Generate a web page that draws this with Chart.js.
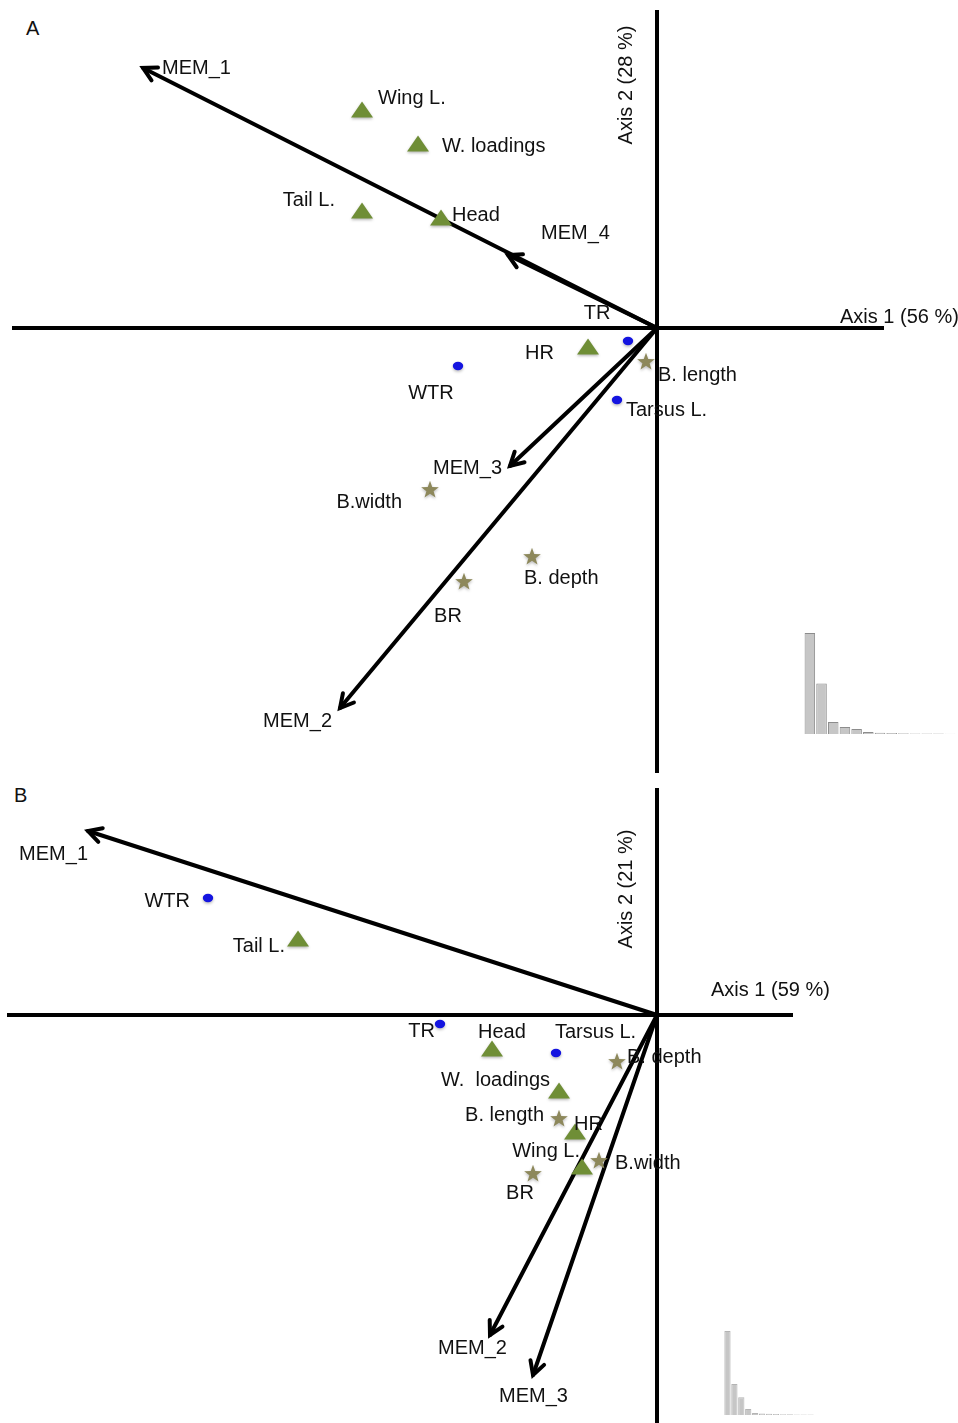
<!DOCTYPE html>
<html>
<head>
<meta charset="utf-8">
<script src="https://cdn.jsdelivr.net/npm/chart.js@4/dist/chart.umd.min.js"></script>
<style>
  html, body { margin: 0; padding: 0; background: #fff; }
  body { width: 958px; height: 1423px; position: relative; overflow: hidden;
         font-family: "Liberation Sans", Arial, sans-serif; }
  canvas { position: absolute; }
  .tag { position: absolute; font-size: 20px; color: #111; line-height: 22px; }
</style>
</head>
<body>
<div class="tag" style="left:26px;top:17px">A</div>
<div class="tag" style="left:14px;top:784px">B</div>
<canvas id="panelA" width="958" height="780" style="left:0;top:0"></canvas>
<canvas id="panelB" width="958" height="643" style="left:0;top:780px"></canvas>
<canvas id="eigA" width="152" height="101" style="left:804px;top:633px"></canvas>
<canvas id="eigB" width="90" height="84" style="left:724px;top:1331px"></canvas>

<script>
// ---- Panel A: trait scores (axis 1 = 56 %, axis 2 = 28 %) ----
const traitsA = ['Wing L.', 'W. loadings', 'Tail L.', 'Head', 'HR', 'TR', 'WTR', 'Tarsus L.', 'B. length', 'B.width', 'B. depth', 'BR'];
const kindA   = ['triangle', 'triangle', 'triangle', 'triangle', 'triangle', 'circle', 'circle', 'circle', 'star', 'star', 'star', 'star'];
const xA      = [-2.95, -2.39, -2.95, -2.16, -0.69, -0.29, -1.99, -0.40, -0.11, -2.27, -1.25, -1.93];
const yA      = [ 2.18,  1.84,  1.17,  1.10, -0.19, -0.13, -0.38, -0.72, -0.34, -1.62, -2.29, -2.54];
// spatial eigenvector (MEM) arrows
const memA    = ['MEM_1', 'MEM_4', 'MEM_3', 'MEM_2'];
const memXA   = [-5.14, -1.49, -1.47, -3.17];
const memYA   = [ 2.60,  0.73, -1.38, -3.80];
// eigenvalue bars (relative)
const eigValsA = [100, 50, 12, 7, 5, 2, 1.2, 0.9, 0.8, 0.6, 0.5, 0.4, 0.3];

// ---- Panel B: trait scores (axis 1 = 59 %, axis 2 = 21 %) ----
const traitsB = ['WTR', 'Tail L.', 'TR', 'Head', 'Tarsus L.', 'B. depth', 'W.  loadings', 'B. length', 'HR', 'Wing L.', 'B.width', 'BR'];
const kindB   = ['circle', 'triangle', 'circle', 'triangle', 'circle', 'star', 'triangle', 'star', 'triangle', 'triangle', 'star', 'star'];
const xB      = [-4.49, -3.59, -2.17, -1.65, -1.01, -0.40, -0.98, -0.98, -0.82, -0.75, -0.58, -1.24];
const yB      = [ 1.17,  0.76, -0.09, -0.34, -0.38, -0.47, -0.76, -1.04, -1.17, -1.52, -1.46, -1.59];
const memB    = ['MEM_1', 'MEM_2', 'MEM_3'];
const memXB   = [-5.69, -1.67, -1.24];
const memYB   = [ 1.84, -3.20, -3.60];
const eigValsB = [100, 37, 21, 7, 2.5, 1.8, 1.4, 1.2, 1, 0.8, 0.7, 0.6, 0.5];

const axisTitlesA = ['Axis 1 (56 %)', 'Axis 2 (28 %)'];
const axisTitlesB = ['Axis 1 (59 %)', 'Axis 2 (21 %)'];

// ---- styling ----
const FONT = '20px "Liberation Sans", Arial, sans-serif';
const TEXT_COLOR = '#111';
const TEXT_SHIFT = 1;
const LINE_W = 4;
const COLORS = { triangle: '#6f8e36', circle: '#1414e0', star: '#8d885b' };

// label placement: [dx, dy, align] in pixels from the mark
const placeA = {
  'Wing L.': [16, -13, 'left'], 'W. loadings': [24, 1, 'left'], 'Tail L.': [-27, -12, 'right'],
  'Head': [11, -4, 'left'], 'HR': [-34, 5, 'right'], 'TR': [-31, -29, 'center'],
  'WTR': [-27, 26, 'center'], 'Tarsus L.': [9, 9, 'left'], 'B. length': [12, 12, 'left'],
  'B.width': [-28, 11, 'right'], 'B. depth': [-8, 20, 'left'], 'BR': [-16, 33, 'center'],
  'MEM_1': [19, -1, 'left'], 'MEM_4': [33, -23, 'left'], 'MEM_3': [-8, 1, 'right'], 'MEM_2': [-8, 12, 'right']
};
const placeB = {
  'WTR': [-18, 2, 'right'], 'Tail L.': [-13, 6, 'right'], 'TR': [-5, 6, 'right'],
  'Head': [-14, -18, 'left'], 'Tarsus L.': [-1, -22, 'left'], 'B. depth': [10, -6, 'left'],
  'W.  loadings': [-9, -12, 'right'], 'B. length': [-15, -5, 'right'], 'HR': [-1, -9, 'left'],
  'Wing L.': [-2, -17, 'right'], 'B.width': [16, 1, 'left'], 'BR': [-13, 18, 'center'],
  'MEM_1': [0, 22, 'right'], 'MEM_2': [-52, 12, 'left'], 'MEM_3': [-34, 20, 'left']
};

// marker sprites with a soft drop shadow
function sprite(kind) {
  const c = document.createElement('canvas');
  c.width = 32; c.height = 32;
  const g = c.getContext('2d');
  g.shadowColor = 'rgba(0,0,0,0.28)';
  g.shadowBlur = 3;
  g.shadowOffsetY = 1.5;
  g.fillStyle = COLORS[kind];
  g.beginPath();
  if (kind === 'triangle') {
    g.moveTo(16, 7.5); g.lineTo(27, 23.5); g.lineTo(5, 23.5); g.closePath();
  } else if (kind === 'circle') {
    g.ellipse(16, 16, 5.2, 4.2, 0, 0, Math.PI * 2);
  } else {
    for (let i = 0; i < 10; i++) {
      const r = i % 2 === 0 ? 9.3 : 3.8;
      const a = -Math.PI / 2 + i * Math.PI / 5;
      const px = 16 + r * Math.cos(a), py = 16 + r * Math.sin(a);
      i === 0 ? g.moveTo(px, py) : g.lineTo(px, py);
    }
    g.closePath();
  }
  g.fill();
  return c;
}
const SPRITES = { triangle: sprite('triangle'), circle: sprite('circle'), star: sprite('star') };

// draws open arrowheads, point labels and axis titles
const biplotDecor = {
  id: 'biplotDecor',
  afterDatasetsDraw(chart, args, opts) {
    const { ctx } = chart;
    const xs = chart.scales.x, ys = chart.scales.y;
    ctx.save();
    chart.data.datasets.forEach((ds) => {
      if (!ds.arrow) return;
      const p0 = ds.data[0], p1 = ds.data[1];
      const x0 = xs.getPixelForValue(p0.x), y0 = ys.getPixelForValue(p0.y);
      const x1 = xs.getPixelForValue(p1.x), y1 = ys.getPixelForValue(p1.y);
      const ang = Math.atan2(y0 - y1, x0 - x1);
      const len = 15, spread = 0.5;
      ctx.strokeStyle = '#000';
      ctx.lineWidth = LINE_W;
      ctx.lineCap = 'round';
      ctx.lineJoin = 'miter';
      ctx.beginPath();
      ctx.moveTo(x1 + len * Math.cos(ang + spread), y1 + len * Math.sin(ang + spread));
      ctx.lineTo(x1, y1);
      ctx.lineTo(x1 + len * Math.cos(ang - spread), y1 + len * Math.sin(ang - spread));
      ctx.stroke();
    });
    ctx.font = FONT;
    ctx.fillStyle = TEXT_COLOR;
    ctx.textBaseline = 'middle';
    opts.labels.forEach((l) => {
      const px = xs.getPixelForValue(l.x) + l.dx;
      const py = ys.getPixelForValue(l.y) + l.dy + TEXT_SHIFT;
      ctx.textAlign = l.align;
      if (l.rotate) {
        ctx.save();
        ctx.translate(px, py);
        ctx.rotate(-Math.PI / 2);
        ctx.textAlign = 'center';
        ctx.fillText(l.text, 0, 0);
        ctx.restore();
      } else {
        ctx.fillText(l.text, px, py);
      }
    });
    ctx.restore();
  }
};

function buildPanel(canvasId, names, kinds, xs, ys, mems, mx, my, place, titles, lim, axisEnds, titlePos) {
  const datasets = [];
  // coordinate axes through the origin
  datasets.push({ data: [{ x: axisEnds[0], y: 0 }, { x: axisEnds[1], y: 0 }] });
  datasets.push({ data: [{ x: 0, y: axisEnds[2] }, { x: 0, y: axisEnds[3] }] });
  datasets.forEach((d) => Object.assign(d, {
    showLine: true, borderColor: '#000', borderWidth: LINE_W, pointRadius: 0, order: 3
  }));
  // MEM arrows from the origin
  mems.forEach((m, i) => datasets.push({
    label: m, arrow: true, showLine: true, borderColor: '#000', borderWidth: LINE_W,
    pointRadius: 0, order: 2, borderCapStyle: 'round',
    data: [{ x: 0, y: 0 }, { x: mx[i], y: my[i] }]
  }));
  // trait markers, one dataset per marker kind
  ['triangle', 'circle', 'star'].forEach((k) => {
    const pts = [];
    names.forEach((n, i) => { if (kinds[i] === k) pts.push({ x: xs[i], y: ys[i] }); });
    datasets.push({ label: k, data: pts, pointStyle: SPRITES[k], pointRadius: 10, order: 1 });
  });

  const labels = [];
  names.forEach((n, i) => {
    const p = place[n];
    labels.push({ text: n, x: xs[i], y: ys[i], dx: p[0], dy: p[1], align: p[2] });
  });
  mems.forEach((m, i) => {
    const p = place[m];
    labels.push({ text: m, x: mx[i], y: my[i], dx: p[0], dy: p[1], align: p[2] });
  });
  labels.push({ text: titles[0], x: titlePos[0], y: titlePos[1], dx: 0, dy: 0, align: 'left' });
  labels.push({ text: titles[1], x: titlePos[2], y: titlePos[3], dx: 0, dy: 0, align: 'center', rotate: true });

  return new Chart(document.getElementById(canvasId), {
    type: 'scatter',
    data: { datasets },
    options: {
      responsive: false, animation: false, devicePixelRatio: 1,
      layout: { padding: 0, autoPadding: false },
      scales: {
        x: { display: false, min: lim[0], max: lim[1] },
        y: { display: false, min: lim[2], max: lim[3] }
      },
      plugins: { legend: { display: false }, tooltip: { enabled: false }, biplotDecor: { labels } }
    },
    plugins: [biplotDecor]
  });
}

buildPanel('panelA', traitsA, kindA, xA, yA, memA, memXA, memYA, placeA, axisTitlesA,
  [-6.57, 3.01, -4.52, 3.28], [-6.45, 2.27, 3.18, -4.45], [1.83, 0.12, -0.31, 2.44]);
buildPanel('panelB', traitsB, kindB, xB, yB, memB, memXB, memYB, placeB, axisTitlesB,
  [-6.57, 3.01, -4.08, 2.35], [-6.50, 1.36, 2.27, -4.08], [0.54, 0.26, -0.31, 1.27]);

// eigenvalue insets
function buildEig(canvasId, vals, border) {
  return new Chart(document.getElementById(canvasId), {
    type: 'bar',
    data: {
      labels: vals.map((v, i) => String(i + 1)),
      datasets: [{ data: vals, backgroundColor: '#c6c6c6', borderColor: border, borderWidth: 1,
                   categoryPercentage: 1, barPercentage: 0.9 }]
    },
    options: {
      responsive: false, animation: false, devicePixelRatio: 1,
      layout: { padding: 0, autoPadding: false },
      scales: { x: { display: false }, y: { display: false, min: 0, max: 100 } },
      plugins: { legend: { display: false }, tooltip: { enabled: false } }
    }
  });
}
buildEig('eigA', eigValsA, '#8c8c8c');
buildEig('eigB', eigValsB, '#b4b4b4');
</script>
</body>
</html>
